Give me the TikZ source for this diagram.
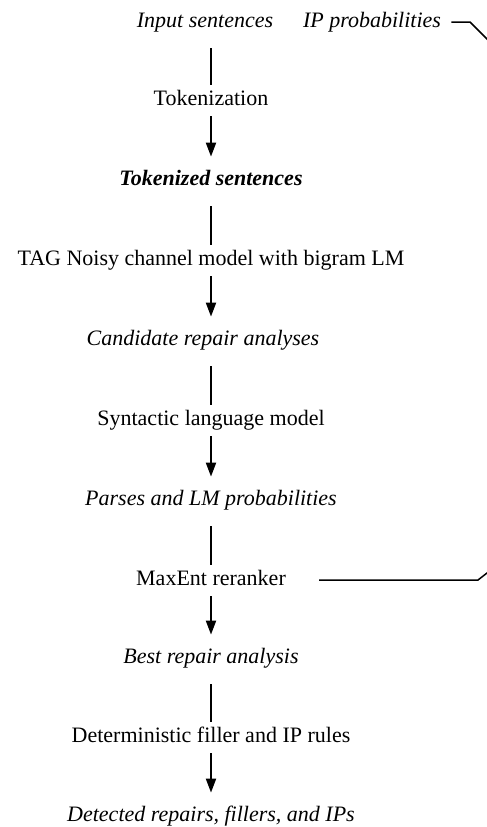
\documentclass[tikz,border=0pt]{standalone}
\usepackage{fontspec}
\setmainfont{Liberation Serif}
\usepackage{tikz}
\usetikzlibrary{arrows.meta,positioning}

\tikzset{
  stage/.style={inner sep=0pt, text height=7.5pt, text depth=2.5pt, font=\fontsize{11}{13}\selectfont},
  data/.style={stage, font=\fontsize{11}{13}\selectfont\itshape},
  link/.style={line width=1pt, shorten <=8pt, shorten >=2.5pt},
  flow/.style={line width=1pt, -{Triangle[length=7pt,width=5pt]}, shorten <=3pt, shorten >=6.5pt},
  feedback/.style={line width=0.75pt}
}

\begin{document}
\begin{tikzpicture}[x=0.5pt, y=-0.5pt]

% Page
\useasboundingbox (0,0) rectangle (487,827);
\clip (0,0) rectangle (487,827);

% Inputs
\node[data] (input) at (205,22) {Input sentences};
\node[data] (ipprob) at (372,22) {IP probabilities};

% Pipeline
\node[stage] (tokenize) at (211,100) {Tokenization};
\node[data, font=\fontsize{11}{13}\selectfont\bfseries\itshape] (tokens) at (211,180) {Tokenized sentences};
\node[stage] (noisy) at (211,260) {TAG Noisy channel model with bigram LM};
\node[data] (cands) at (203,340) {Candidate repair analyses};
\node[stage] (synlm) at (211,420) {Syntactic language model};
\node[data] (parses) at (211,500) {Parses and LM probabilities};
\node[stage] (rerank) at (211,580) {MaxEnt reranker};
\node[data] (best) at (211,658) {Best repair analysis};
\node[stage] (rules) at (211,737) {Deterministic filler and IP rules};
\node[data] (output) at (211,816) {Detected repairs, fillers, and IPs};

% Connectors
\draw[link] (input.south -| tokenize) -- (tokenize);
\draw[flow] (tokenize) -- (tokens);
\draw[link] (tokens) -- (noisy);
\draw[flow] (noisy) -- (cands.north -| noisy);
\draw[link] (cands.south -| synlm) -- (synlm);
\draw[flow] (synlm) -- (parses);
\draw[link] (parses) -- (rerank);
\draw[flow] (rerank) -- (best);
\draw[link] (best) -- (rules);
\draw[flow] (rules) -- (output);

% IP probabilities fed to the reranker
\coordinate (ipbend) at (470,22);
\coordinate (ipout) at (500,52);
\coordinate (rrbend) at (478,580);
\coordinate (rrout) at (496,566);
\draw[feedback] ([xshift=5pt]ipprob.east) -- (ipbend) -- (ipout);
\draw[feedback] ([xshift=16.5pt]rerank.east) -- (rrbend) -- (rrout);

\end{tikzpicture}
\end{document}
